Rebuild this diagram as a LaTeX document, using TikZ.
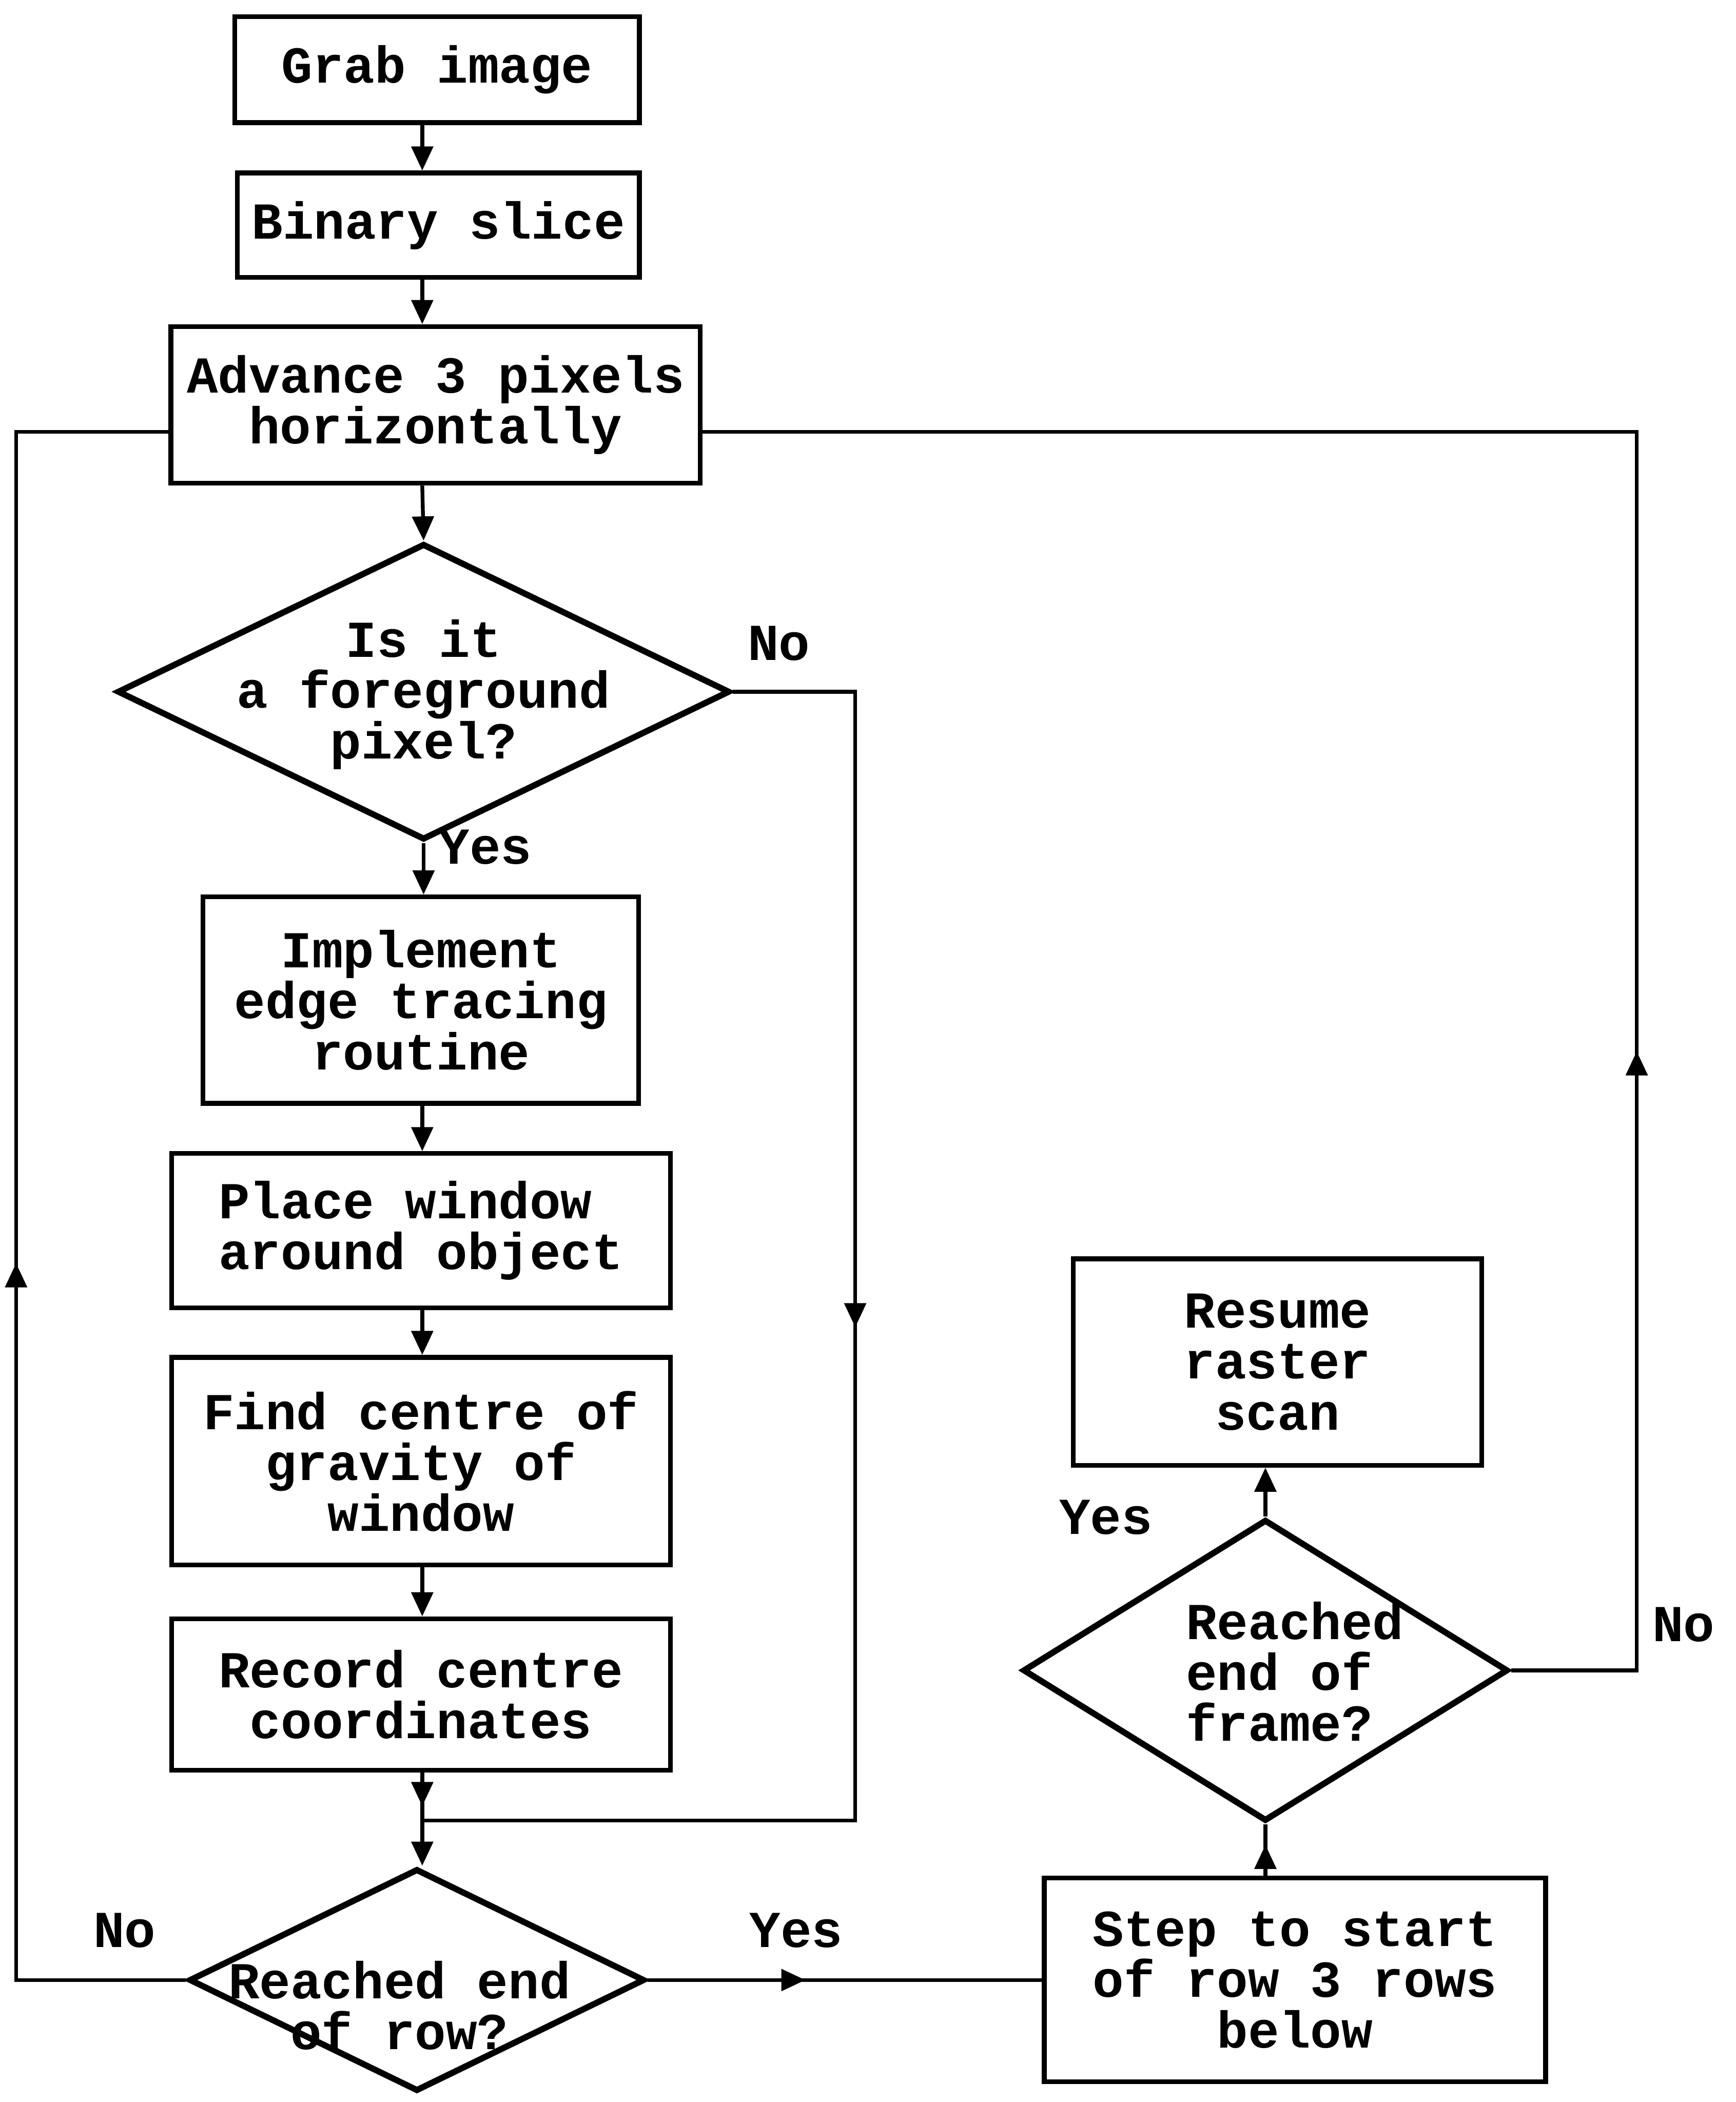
\documentclass[tikz,border=0pt]{standalone}
\usepackage{fontspec}
\setmainfont{Liberation Mono}
\usepackage{tikz}
\usetikzlibrary{positioning,calc,shapes.geometric,arrows.meta,decorations.markings}
\tikzset{flowtext/.style={font=\bfseries\fontsize{11}{10.8}\selectfont}}
\tikzset{box/.style={flowtext, draw, line width=1pt, rectangle, inner sep=0pt, align=center}}
\tikzset{decision/.style={draw, diamond, line width=1.3pt, inner sep=0pt}}
\tikzset{conn/.style={draw, line width=0.8pt}}
\tikzset{arr/.style={conn, -{Triangle[width=1.6mm,length=1.8mm]}}}
\tikzset{midarr/.style={conn, postaction={decorate}, decoration={markings,
	mark=at position #1 with {\arrow{Triangle[width=1.6mm,length=1.8mm]}}}}}
\tikzset{answer/.style={flowtext, inner sep=0pt}}

\begin{document}
\begin{tikzpicture}[x=0.1mm, y=-0.1mm]
		\useasboundingbox (0,0) rectangle (1295,1568);
		% main column
		\node[box, minimum width=30.2mm, minimum height=7.9mm] (grab) at (326,52) {Grab image};
		\node[box, minimum width=30.0mm, minimum height=7.8mm] (slice) at (327,168) {Binary slice};
		\node[box, minimum width=39.5mm, minimum height=11.7mm] (adv) at (325,302) {Advance 3 pixels\\horizontally};
		\node[decision, minimum width=45.7mm, minimum height=22.1mm] (d1) at (316,516) {};
		\node[flowtext, align=center] (d1t) at (316,518) {Is it\\a foreground\\pixel?};
		\node[box, minimum width=32.5mm, minimum height=15.4mm] (trace) at (314,746) {Implement\\edge tracing\\routine};
		\node[box, align=left, minimum width=37.2mm, minimum height=11.5mm] (window) at (314,918) {Place window\\around object};
		\node[box, minimum width=37.2mm, minimum height=15.5mm] (cog) at (314,1090) {Find centre of\\gravity of\\window};
		\node[box, minimum width=37.2mm, minimum height=11.3mm] (record) at (314,1264) {Record centre\\coordinates};
		\node[decision, minimum width=34mm, minimum height=16.6mm] (d2) at (311,1477) {};
		\node[flowtext, align=center] (d2t) at (298,1496) {Reached end\\of row?};
		% right column
		\node[box, minimum width=37.4mm, minimum height=15.2mm] (step) at (966,1477) {Step to start\\of row 3 rows\\below};
		\node[decision, minimum width=36.2mm, minimum height=22.5mm] (d3) at (944,1246) {};
		\node[flowtext, align=left] (d3t) at (966,1247) {Reached\\end of\\frame?};
		\node[box, minimum width=30.5mm, minimum height=15.4mm] (resume) at (953,1016) {Resume\\raster\\scan};
		% answers
		\node[answer] (no1) at (581,480) {No};
		\node[answer] (yes1) at (362,632) {Yes};
		\node[answer] (no2) at (93,1440) {No};
		\node[answer] (yes2) at (594,1440) {Yes};
		\node[answer] (yes3) at (825,1132) {Yes};
		\node[answer] (no3) at (1256,1212) {No};
		% corners and junction
		\coordinate (nc) at (638,516);
		\coordinate (jn) at (315,1358);
		\coordinate (lc) at (12,1477);
		\coordinate (rc) at (1221,1246);

		\draw[arr] (grab.south -| jn) -- (slice.north -| jn);
		\draw[arr] (slice.south -| jn) -- (adv.north -| jn);
		\draw[arr] (adv.south -| jn) -- (d1.north);
		\draw[arr] (d1.south) -- (trace.north -| d1);
		\draw[arr] (trace.south -| jn) -- (window.north -| jn);
		\draw[arr] (window.south -| jn) -- (cog.north -| jn);
		\draw[arr] (cog.south -| jn) -- (record.north -| jn);
		\draw[midarr=0.7] (record.south -| jn) -- (jn);
		\draw[arr] (jn) -- (d2.north -| jn);
		\draw[midarr=0.45] (d1.east) -- (nc) |- (jn);
		\draw[midarr=0.474] (d2.west) -- (lc) |- ([yshift=-2mm]adv.west);
		\draw[midarr=0.4] (d2.east) -- (step.west);
		\draw[midarr=0.6] (step.north -| d3) -- (d3.south);
		\draw[arr] (d3.north) -- (resume.south -| d3);
		\draw[midarr=0.324] (d3.east) -- (rc) |- ([yshift=-2mm]adv.east);
	\end{tikzpicture}
\end{document}
